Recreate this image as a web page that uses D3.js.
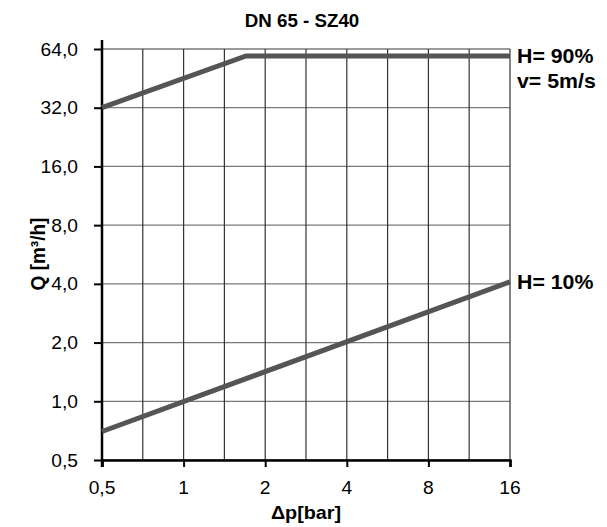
<!DOCTYPE html>
<html>
<head>
<meta charset="utf-8">
<script src="https://cdn.jsdelivr.net/npm/d3@7"></script>
<style>
  html, body { margin: 0; padding: 0; background: #fff; }
  svg { display: block; }
  text { font-family: "Liberation Sans", Arial, Helvetica, sans-serif; fill: #000; }
</style>
</head>
<body>
<svg id="chart" width="607" height="527"></svg>
<script>
// ---- data ----
const title = "DN 65 - SZ40";
const xLabel = "\u0394p[bar]";
const yLabel = "Q [m\u00b3/h]";
const xTicks = [0.5, 1, 2, 4, 8, 16];
const xTickLabels = ["0,5", "1", "2", "4", "8", "16"];
const xGrid = [0.5, 0.707, 1, 1.414, 2, 2.828, 4, 5.657, 8, 11.31, 16];
const yTicks = [0.5, 1, 2, 4, 8, 16, 32, 64];
const yTickLabels = ["0,5", "1,0", "2,0", "4,0", "8,0", "16,0", "32,0", "64,0"];
const h90P = [0.5, 1.7, 16];
const h90Q = [32, 59, 59];
const h10P = [0.5, 16];
const h10Q = [0.70, 4.1];
const h90Labels = ["H= 90%", "v= 5m/s"];
const h10Labels = ["H= 10%"];

// ---- layout ----
const SX = 1.04;
const FS = 18.5;
const pL = 102, pR = 510, pT = 49, pB = 460;
const svg = d3.select("#chart");

const x = d3.scaleLog().base(2).domain([0.5, 16]).range([pL, pR]);
const y = d3.scaleLog().base(2).domain([0.5, 64]).range([pB, pT]);

function stretchedText(g, tx, ty, str, opts) {
  return g.append("text")
    .attr("transform", `translate(${tx},${ty}) scale(${SX},1)` + (opts.rotate ? ` rotate(${opts.rotate})` : ""))
    .attr("text-anchor", opts.anchor || "start")
    .attr("font-size", opts.size || FS)
    .attr("font-weight", opts.bold ? "bold" : "normal")
    .text(str);
}

// grid
const grid = svg.append("g");
grid.selectAll("line.h").data(yTicks).enter().append("line")
  .attr("x1", pL).attr("x2", pR)
  .attr("y1", d => y(d)).attr("y2", d => y(d))
  .attr("stroke", "#7a7a7a").attr("stroke-width", 1.3);
grid.selectAll("line.v").data(xGrid).enter().append("line")
  .attr("x1", d => x(d)).attr("x2", d => x(d))
  .attr("y1", pT).attr("y2", pB)
  .attr("stroke", "#333").attr("stroke-width", 1.2);

// axes
const xAxis = d3.axisBottom(x).tickValues(xTicks).tickSize(7).tickFormat("");
const gx = svg.append("g").attr("transform", `translate(0,${pB})`).call(xAxis);
gx.select(".domain").attr("stroke", "#000").attr("stroke-width", 2.5);
gx.selectAll(".tick line").attr("stroke", "#000").attr("stroke-width", 2);

const yAxis = d3.axisLeft(y).tickValues(yTicks).tickSize(8).tickFormat("");
const gy = svg.append("g").attr("transform", `translate(${pL},0)`).call(yAxis);
gy.select(".domain").remove();
gy.selectAll(".tick line").attr("stroke", "#000").attr("stroke-width", 2);
svg.append("line").attr("x1", pL).attr("x2", pL).attr("y1", pT - 9).attr("y2", pB + 7)
  .attr("stroke", "#000").attr("stroke-width", 2.5);

// tick labels
const labels = svg.append("g");
xTicks.forEach((v, i) => stretchedText(labels, x(v), 494, xTickLabels[i], { anchor: "middle" }));
yTicks.forEach((v, i) => stretchedText(labels, 78, y(v) + 6.5, yTickLabels[i], { anchor: "end" }));

// series lines
const line = d3.line().x(d => x(d[0])).y(d => y(d[1]));
svg.append("path").datum(h90P.map((p, i) => [p, h90Q[i]]))
  .attr("d", line).attr("fill", "none").attr("stroke", "#555").attr("stroke-width", 5);
svg.append("path").datum(h10P.map((p, i) => [p, h10Q[i]]))
  .attr("d", line).attr("fill", "none").attr("stroke", "#555").attr("stroke-width", 5);

// series labels
stretchedText(svg, 517, y(h90Q[2]) + 7, h90Labels[0], { bold: true, size: 20.5 });
stretchedText(svg, 517, y(h90Q[2]) + 32, h90Labels[1], { bold: true, size: 20.5 });
stretchedText(svg, 517, y(h10Q[1]) + 7, h10Labels[0], { bold: true, size: 20.5 });

// title and axis titles
stretchedText(svg, 302, 27, title, { anchor: "middle", bold: true, size: 18 });
stretchedText(svg, 306, 519, xLabel, { anchor: "middle", bold: true, size: 19 });
stretchedText(svg, 45, 254, yLabel, { anchor: "middle", bold: true, size: 19, rotate: -90 });
</script>
</body>
</html>
